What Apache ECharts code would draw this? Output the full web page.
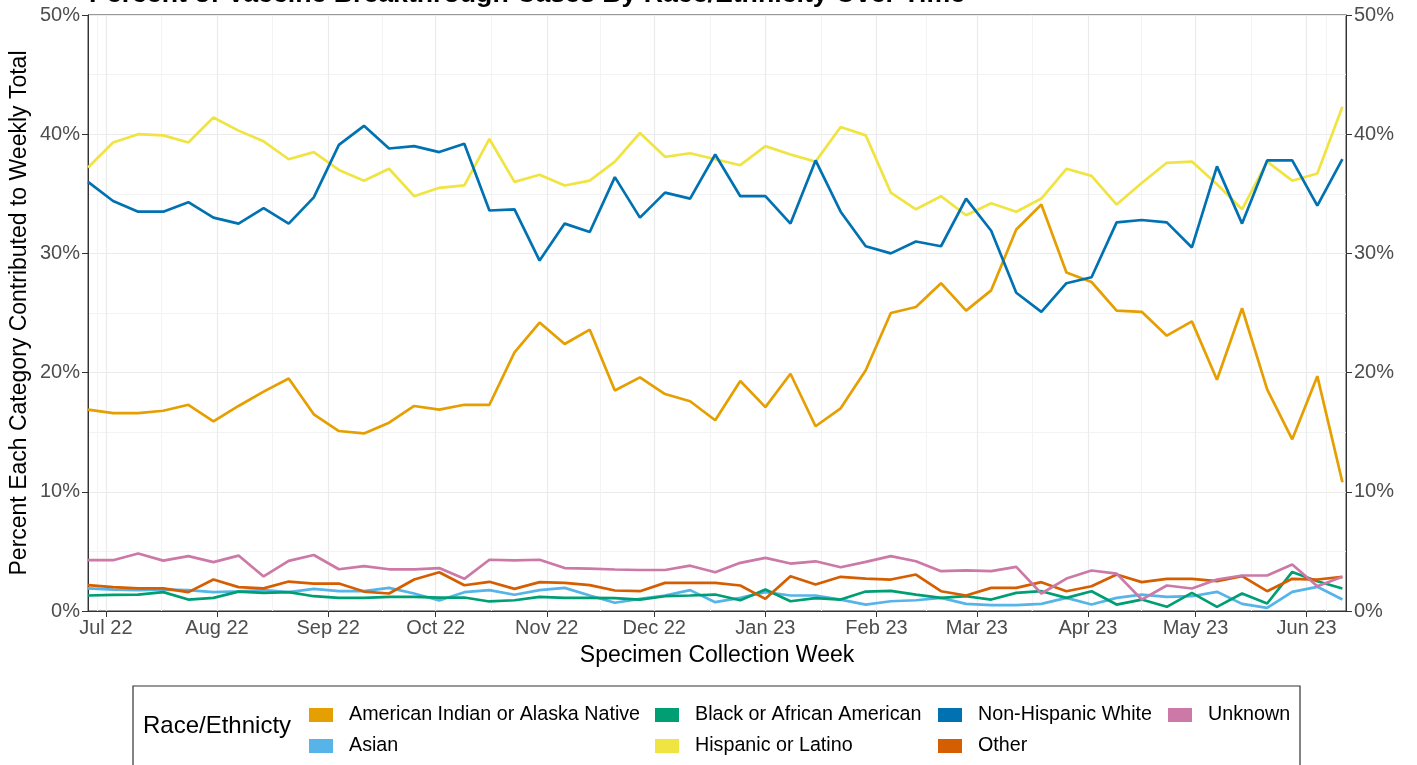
<!DOCTYPE html>
<html><head><meta charset="utf-8">
<script src="https://cdn.jsdelivr.net/npm/echarts@6/dist/echarts.min.js"></script>
<style>html,body{margin:0;padding:0;background:#fff}#c{width:1417px;height:765px}</style>
</head><body><div id="c"></div>
<script>
const weeks = ['2022-06-26','2022-07-03','2022-07-10','2022-07-17','2022-07-24','2022-07-31','2022-08-07','2022-08-14','2022-08-21','2022-08-28',
'2022-09-04','2022-09-11','2022-09-18','2022-09-25','2022-10-02','2022-10-09','2022-10-16','2022-10-23','2022-10-30','2022-11-06',
'2022-11-13','2022-11-20','2022-11-27','2022-12-04','2022-12-11','2022-12-18','2022-12-25','2023-01-01','2023-01-08','2023-01-15',
'2023-01-22','2023-01-29','2023-02-05','2023-02-12','2023-02-19','2023-02-26','2023-03-05','2023-03-12','2023-03-19','2023-03-26',
'2023-04-02','2023-04-09','2023-04-16','2023-04-23','2023-04-30','2023-05-07','2023-05-14','2023-05-21','2023-05-28','2023-06-04','2023-06-11'];

const aian = [16.9,16.6,16.6,16.8,17.3,15.9,17.2,18.4,19.5,16.5,15.1,14.9,15.8,17.2,16.9,17.3,17.3,21.7,24.2,22.4,
23.6,18.5,19.6,18.2,17.6,16.0,19.3,17.1,19.9,15.5,17.0,20.2,25.0,25.5,27.5,25.2,26.9,32.0,34.1,28.4,
27.6,25.2,25.1,23.1,24.3,19.4,25.4,18.6,14.4,19.7,10.8];
const asian = [1.89,1.8,1.75,1.8,1.75,1.58,1.65,1.75,1.58,1.86,1.66,1.66,1.94,1.47,0.88,1.58,1.75,1.36,1.75,1.94,
1.3,0.69,1.02,1.3,1.75,0.74,1.1,1.58,1.3,1.3,0.96,0.54,0.82,0.9,1.1,0.6,0.49,0.49,0.6,1.1,
0.54,1.1,1.38,1.19,1.24,1.61,0.6,0.26,1.61,2.03,0.96];
const black = [1.3,1.36,1.38,1.58,0.96,1.1,1.63,1.52,1.58,1.24,1.1,1.1,1.19,1.19,1.13,1.13,0.8,0.9,1.19,1.1,
1.1,1.08,0.96,1.24,1.3,1.38,0.9,1.8,0.82,1.08,0.96,1.63,1.69,1.38,1.1,1.24,0.96,1.52,1.66,1.1,
1.66,0.54,0.96,0.35,1.52,0.35,1.47,0.63,3.28,2.5,1.89];
const hispanic = [37.2,39.3,40.0,39.9,39.3,41.4,40.3,39.4,37.9,38.5,37.0,36.1,37.1,34.8,35.5,35.7,39.6,36.0,36.6,35.7,
36.1,37.7,40.1,38.1,38.4,37.9,37.4,39.0,38.3,37.7,40.6,39.9,35.1,33.7,34.8,33.2,34.2,33.5,34.6,37.1,
36.5,34.1,35.9,37.6,37.7,35.8,33.7,37.7,36.1,36.7,42.3];
const nhw = [36.0,34.4,33.5,33.5,34.3,33.0,32.5,33.8,32.5,34.7,39.1,40.7,38.8,39.0,38.5,39.2,33.6,33.7,29.4,32.5,
31.8,36.4,33.0,35.1,34.6,38.3,34.8,34.8,32.5,37.8,33.5,30.6,30.0,31.0,30.6,34.6,31.9,26.7,25.1,27.5,
28.0,32.6,32.8,32.6,30.5,37.3,32.5,37.8,37.8,34.0,37.9];
const other = [2.17,2.0,1.9,1.9,1.58,2.64,2.0,1.9,2.47,2.3,2.3,1.63,1.47,2.64,3.25,2.16,2.45,1.86,2.42,2.36,
2.17,1.72,1.66,2.36,2.36,2.36,2.14,1.02,2.92,2.22,2.87,2.72,2.64,3.06,1.66,1.3,1.94,1.94,2.42,1.66,
2.08,3.06,2.42,2.7,2.7,2.5,2.92,1.66,2.7,2.64,2.87];
const unknown = [4.26,4.26,4.82,4.23,4.6,4.1,4.65,2.9,4.2,4.7,3.5,3.76,3.5,3.5,3.6,2.7,4.3,4.25,4.3,3.6,
3.55,3.48,3.44,3.44,3.8,3.25,4.04,4.46,3.98,4.17,3.67,4.12,4.6,4.17,3.34,3.4,3.34,3.7,1.47,2.72,
3.4,3.14,0.96,2.14,1.89,2.64,2.98,2.98,3.9,2.08,2.87];

const seriesNames = ['American Indian or Alaska Native','Asian','Black or African American','Hispanic or Latino','Non-Hispanic White','Other','Unknown'];
const seriesData = [aian, asian, black, hispanic, nhw, other, unknown];
const colors = ['#E69F00','#56B4E9','#009E73','#F0E442','#0072B2','#D55E00','#CC79A7'];
const yTicks = [0,10,20,30,40,50];
const monthNames = ['Jan','Feb','Mar','Apr','May','Jun','Jul','Aug','Sep','Oct','Nov','Dec'];

const FONT = '"Liberation Sans", Arial, Helvetica, sans-serif';
const chart = echarts.init(document.getElementById('c'), null, {renderer:'canvas'});

const legendPos = [
  [309,705],[309,736],[655,705],[655,736],[938,705],[938,736],[1168,705]
];
const legends = seriesNames.map((n,i)=>({
  data:[{name:n, icon:'rect', itemStyle:{color:colors[i]}}],
  left: legendPos[i][0], top: legendPos[i][1],
  itemWidth:24, itemHeight:14, padding:0, selectedMode:false,
  textStyle:{fontFamily:FONT, fontSize:19.7, color:'#000', padding:[0,0,0,11]}
}));

const yAxisCommon = {
  type:'value', min:0, max:50, interval:10,
  axisLine:{show:true, lineStyle:{color:'#333', width:1}},
  axisTick:{show:true, length:6, lineStyle:{color:'#333'}},
  axisLabel:{formatter:'{value}%', fontFamily:FONT, fontSize:20, color:'#4d4d4d', margin:8},
  splitLine:{show:true, lineStyle:{color:'#ebebeb', width:1.2}},
  minorTick:{show:false, splitNumber:2},
  minorSplitLine:{show:true, lineStyle:{color:'#f3f3f3', width:1}}
};

chart.setOption({
  backgroundColor:'#fff',
  animation:false,
  color: colors,
  grid:{left:88, right:71, top:15, bottom:154, show:true, borderColor:'#333', borderWidth:1, backgroundColor:'transparent',
    containLabel:false, outerBoundsMode:'none'},
  legend: legends,
  graphic:[
    {type:'text', left:89, top:-19, style:{text:'Percent of Vaccine Breakthrough Cases By Race/Ethnicity Over Time', font:'bold 26.7px '+FONT, fill:'#000'}},
    {type:'rect', shape:{x:133, y:686, width:1167, height:100}, style:{fill:'none', stroke:'#333', lineWidth:1.2}},
    {type:'text', left:143, top:714, style:{text:'Race/Ethnicty', font:'24px '+FONT, fill:'#000'}},
    {type:'text', x:717, y:644, style:{text:'Specimen Collection Week', font:'23px '+FONT, fill:'#000', textAlign:'center'}},
    {type:'text', x:20, y:313, rotation:Math.PI/2, style:{text:'Percent Each Category Contributed to Weekly Total', font:'23px '+FONT, fill:'#000', textAlign:'center', textVerticalAlign:'middle'}}
  ],
  xAxis:{
    type:'time',
    min: +new Date(2022,5,26), max: +new Date(2023,5,12),
    minInterval: 28*86400000, maxInterval: 31*86400000,
    axisLine:{show:true, onZero:false, lineStyle:{color:'#333'}},
    axisTick:{show:true, length:6, lineStyle:{color:'#333'}},
    axisLabel:{fontFamily:FONT, fontSize:20, color:'#4d4d4d', margin:7, hideOverlap:false,
      formatter:function(v){const d=new Date(v); return monthNames[d.getMonth()]+' '+String(d.getFullYear()).slice(2);}},
    splitLine:{show:true, lineStyle:{color:'#ebebeb', width:1.2}},
    minorTick:{show:false, splitNumber:2},
    minorSplitLine:{show:true, lineStyle:{color:'#f3f3f3', width:1}}
  },
  yAxis:[
    Object.assign({}, yAxisCommon, {position:'left'}),
    Object.assign({}, yAxisCommon, {position:'right', splitLine:{show:false}, minorSplitLine:{show:false}})
  ],
  series: seriesNames.map((n,i)=>({
    name:n, type:'line', yAxisIndex:0, showSymbol:false, symbol:'none',
    lineStyle:{width:2.7, color:colors[i]}, itemStyle:{color:colors[i]},
    data: weeks.map((w,j)=>[w, seriesData[i][j]]), z:2+i
  }))
});
</script>
</body></html>
